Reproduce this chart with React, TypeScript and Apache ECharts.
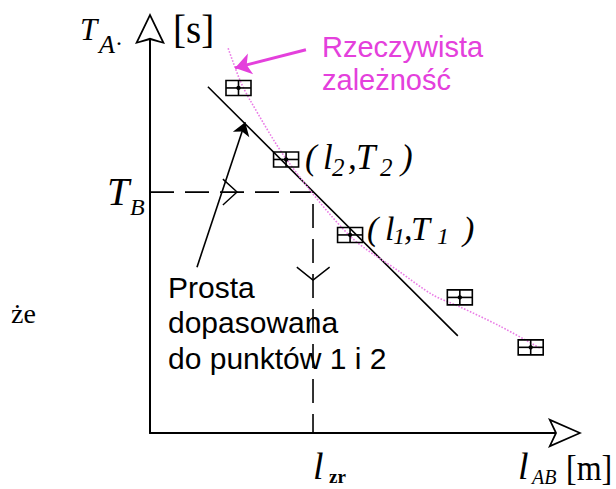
import { useEffect, useRef } from 'react';
import * as echarts from 'echarts';

// ---- data (axis units: l_AB on x 0..100, T_A on y 0..100) ----
const measuredL = [21.85, 33.6, 49.4, 76.5, 94.0];
const measuredT = [87.8, 69.6, 50.4, 34.5, 21.8];

const realCurveL = [19.3, 22.2, 24.7, 33.8, 49.4, 61.7, 69.9, 76.5, 86.4, 96.3];
const realCurveT = [97.9, 89.8, 84.7, 69.5, 50.1, 41.0, 35.1, 32.1, 27.2, 21.6];

const fitLineL = [14.3, 76.0];
const fitLineT = [88.1, 24.7];

const lZr = 40.25;
const tB = 61.3;

const axisMin = 0;
const axisMax = 100;

const sans = '"Liberation Sans", Arial, Helvetica, sans-serif';
const serif = '"Liberation Serif", "Times New Roman", Times, serif';
const PINK = '#e440dc';

type TOpts = {
  italic?: boolean;
  bold?: boolean;
  family?: string;
  color?: string;
  lh?: number;
  va?: string;
  sy?: number;
};
function txt(text: string, x: number, y: number, size: number, o: TOpts = {}) {
  return {
    type: 'text',
    x,
    y,
    scaleY: o.sy || 1,
    silent: true,
    z: 100,
    style: {
      text,
      fontSize: size,
      fontFamily: o.family || serif,
      fontStyle: o.italic ? 'italic' : 'normal',
      fontWeight: o.bold ? 'bold' : 'normal',
      fill: o.color || '#000',
      align: 'left',
      verticalAlign: o.va || 'middle',
      lineHeight: o.lh,
    },
  };
}

const X_ARROW = 'path://M15,0L30,34L15,27L0,34Z M15,4L3.5,30.5L15,25L26.5,30.5Z';
const Y_ARROW = 'path://M15,0L30,31L15,27L0,31Z M15,4L3.2,28.4L15,24.8L26.8,28.4Z';

export default function App() {
  const ref = useRef<HTMLDivElement>(null);
  useEffect(() => {
    if (!ref.current) return;
    const chart = echarts.init(ref.current, undefined, { renderer: 'svg' });
    const pts = measuredL.map((l, i) => [l, measuredT[i]]);
    const curve = realCurveL.map((l, i) => [l, realCurveT[i]]);
    const fit = fitLineL.map((l, i) => [l, fitLineT[i]]);
    const guide = [
      [axisMin, tB],
      [lZr, tB],
      [lZr, axisMin],
    ];
    const chevRight = [
      [18.0, tB + 3.3],
      [21.5, tB],
      [18.0, tB - 3.3],
    ];
    const chevDown = [
      [lZr - 4.0, 42.2],
      [lZr, 38.9],
      [lZr + 4.1, 42.2],
    ];
    const noAxisParts = {
      axisTick: { show: false },
      axisLabel: { show: false },
      splitLine: { show: false },
    };
    chart.setOption({
      animation: false,
      backgroundColor: '#fff',
      grid: { left: 150, right: 61, top: 40, bottom: 56 },
      xAxis: {
        type: 'value',
        min: axisMin,
        max: axisMax,
        ...noAxisParts,
        axisLine: {
          show: true,
          symbol: ['none', X_ARROW],
          symbolSize: [30, 34],
          symbolOffset: [0, 10],
          lineStyle: { color: '#000', width: 2 },
        },
      },
      yAxis: {
        type: 'value',
        min: axisMin,
        max: axisMax,
        ...noAxisParts,
        axisLine: {
          show: true,
          symbol: ['none', Y_ARROW],
          symbolSize: [30, 31],
          symbolOffset: [0, 11.5],
          lineStyle: { color: '#000', width: 2 },
        },
      },
      series: [
        {
          type: 'line',
          data: guide,
          showSymbol: false,
          silent: true,
          lineStyle: { color: '#000', width: 1.6, type: [24, 11] },
        },
        {
          type: 'line',
          data: chevRight,
          showSymbol: false,
          silent: true,
          lineStyle: { color: '#000', width: 1.4 },
        },
        {
          type: 'line',
          data: chevDown,
          showSymbol: false,
          silent: true,
          lineStyle: { color: '#000', width: 1.4 },
        },
        {
          type: 'line',
          data: fit,
          showSymbol: false,
          silent: true,
          lineStyle: { color: '#000', width: 1.6 },
          markLine: {
            silent: true,
            symbol: ['none', 'arrow'],
            symbolSize: 13,
            label: { show: false },
            itemStyle: { color: '#000' },
            lineStyle: { color: '#000', width: 1.6, type: 'solid' },
            data: [[{ coord: [11.6, 42.2] }, { coord: [23.5, 79.1] }]],
          },
        },
        {
          type: 'line',
          data: curve,
          smooth: 0.3,
          showSymbol: false,
          silent: true,
          lineStyle: { color: '#ea7ce6', width: 1.6, type: 'dotted' },
          markLine: {
            silent: true,
            symbol: ['none', 'arrow'],
            symbolSize: 16,
            label: { show: false },
            itemStyle: { color: PINK },
            lineStyle: { color: PINK, width: 3, type: 'solid' },
            data: [[{ coord: [38.5, 97.5] }, { coord: [21.0, 92.9] }]],
          },
        },
        {
          type: 'custom',
          data: pts,
          silent: true,
          z: 5,
          renderItem: (_p: any, api: any) => {
            const c = api.coord([api.value(0), api.value(1)]);
            const w = 25;
            const h = 15;
            const st = { stroke: '#000', lineWidth: 1.6, fill: 'none' };
            return {
              type: 'group',
              children: [
                { type: 'rect', shape: { x: c[0] - w / 2, y: c[1] - h / 2, width: w, height: h }, style: st },
                { type: 'line', shape: { x1: c[0] - w / 2, y1: c[1], x2: c[0] + w / 2, y2: c[1] }, style: st },
                { type: 'line', shape: { x1: c[0], y1: c[1] - h / 2, x2: c[0], y2: c[1] + h / 2 }, style: st },
                { type: 'circle', shape: { cx: c[0], cy: c[1], r: 2.2 }, style: { fill: '#000' } },
              ],
            };
          },
        },
      ],
      graphic: {
        elements: [
          // y axis label
          txt('T', 80, 29, 31, { italic: true }),
          txt('A', 99, 44, 26, { italic: true }),
          txt('.', 116, 37, 24),
          txt('[s]', 173, 29, 39),
          // T_B
          txt('T', 107, 191, 40, { italic: true }),
          txt('B', 130, 207, 24, { italic: true }),
          // (l2,T2)
          txt('(', 305, 157, 35, { italic: true }),
          txt('l', 323, 157, 35, { italic: true }),
          txt('2', 332, 167, 25, { italic: true }),
          txt(',', 348, 157, 35, { italic: true }),
          txt('T', 356, 157, 35, { italic: true }),
          txt('2', 380, 167, 25, { italic: true }),
          txt(')', 401, 157, 35, { italic: true }),
          // (l1,T1)
          txt('(', 367, 228, 34, { italic: true }),
          txt('l', 385, 228, 34, { italic: true }),
          txt('1', 393, 236, 24, { italic: true }),
          txt(',', 404, 228, 34, { italic: true }),
          txt('T', 411, 228, 34, { italic: true }),
          txt('1', 437, 236, 24, { italic: true }),
          txt(')', 463, 228, 34, { italic: true }),
          // x axis labels
          txt('l', 313, 466, 38, { italic: true, lh: 30 }),
          txt('zr', 329, 476, 19, { bold: true, lh: 16 }),
          txt('l', 518, 466, 38, { italic: true, lh: 30 }),
          txt('AB', 532, 477, 20, { italic: true, lh: 16 }),
          txt('[m]', 566, 467, 32, { lh: 28, sy: 1.15 }),
          // side word
          txt('że', 11, 313, 28),
          // annotations
          txt('Rzeczywista\nzależność', 322, 30.5, 29, { family: sans, color: PINK, lh: 33, va: 'top' }),
          txt('Prosta\ndopasowana\ndo punktów 1 i 2', 168, 269.5, 30, { family: sans, lh: 35.5, va: 'top' }),
        ],
      },
    });
    return () => chart.dispose();
  }, []);
  return (
    <div
      ref={ref}
      style={{ position: 'fixed', left: 0, top: 0, width: 616, height: 489, background: '#fff' }}
    />
  );
}
